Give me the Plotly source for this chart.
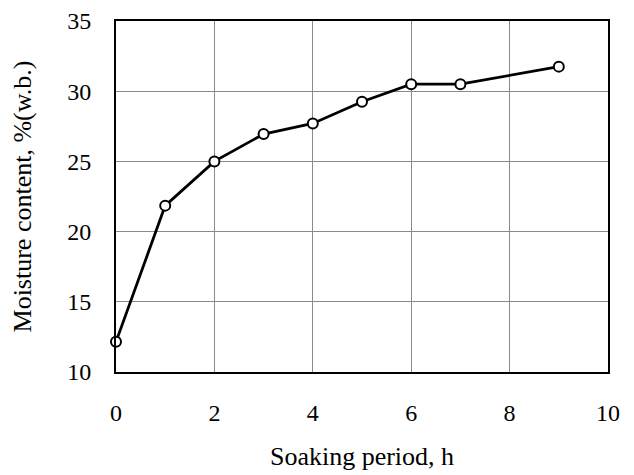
import plotly.graph_objects as go

soak_h = [0, 1, 2, 3, 4, 5, 6, 7, 9]
moisture = [12.15, 21.85, 25.0, 26.95, 27.7, 29.25, 30.5, 30.5, 31.75]
x_ticks = [0, 2, 4, 6, 8, 10]
y_ticks = [10, 15, 20, 25, 30, 35]

font_family = "Liberation Serif"
tick_font = dict(family=font_family, size=24, color="black")
title_font = dict(family=font_family, size=26, color="black")

fig = go.Figure()
fig.add_trace(go.Scatter(
    x=soak_h, y=moisture, mode="lines+markers",
    line=dict(color="black", width=2.8),
    marker=dict(symbol="circle", size=10, color="white",
                line=dict(color="black", width=2)),
    showlegend=False, cliponaxis=False,
))

fig.update_layout(
    width=634, height=475,
    margin=dict(l=116, r=26, t=21, b=103, autoexpand=False),
    paper_bgcolor="white", plot_bgcolor="white",
    font=dict(family=font_family, size=24, color="black"),
)
fig.update_xaxes(
    range=[0, 10], tickvals=x_ticks, showgrid=True, gridcolor="#8a8a8a", gridwidth=1,
    showline=True, linecolor="black", linewidth=2, mirror=True,
    ticks="", ticklabelstandoff=18, zeroline=False, automargin=False,
    tickfont=tick_font,
    title=dict(text="Soaking period, h", font=title_font, standoff=22),
)
fig.update_yaxes(
    range=[10, 35], tickvals=y_ticks, showgrid=True, gridcolor="#8a8a8a", gridwidth=1,
    showline=True, linecolor="black", linewidth=2, mirror=True,
    ticks="", ticklabelstandoff=18, zeroline=False, automargin=False,
    tickfont=tick_font,
    title=dict(text="Moisture content, %(w.b.)", font=title_font, standoff=28),
)

fig.write_html("out.html")
